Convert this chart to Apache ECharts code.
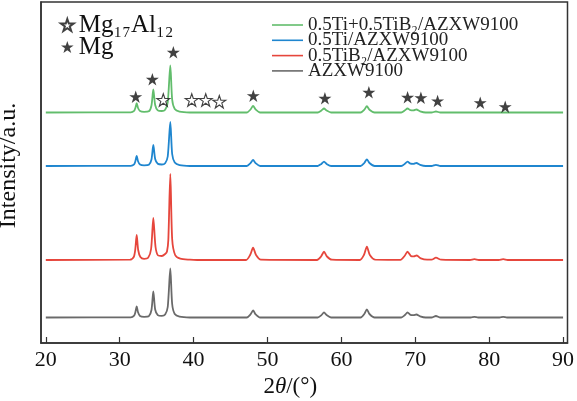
<!DOCTYPE html>
<html><head><meta charset="utf-8">
<script src="https://cdn.jsdelivr.net/npm/echarts@6/dist/echarts.min.js"></script>
<style>html,body{margin:0;padding:0;background:#fff}#c{width:577px;height:401px}</style>
</head><body><div id="c"></div>
<script>
// Series names (legend order)
const seriesNames = ['0.5Ti+0.5TiB₂/AZXW9100','0.5Ti/AZXW9100','0.5TiB₂/AZXW9100','AZXW9100'];
const seriesColors = ['#62bd6c','#1f86cf','#e6463c','#6a6a6a'];
// Vertical stacking offsets of each pattern (a.u.)
const traceOffsets = [230.5, 177, 83, 25.5];
// [2θ, relative intensity]
const greenTrace = [[20,0],[31.5,0.2],[31.95,1.6],[32.12,4.5],[32.3,9.4],[32.48,4.5],[32.75,1.4],[33.3,0.6],[33.95,1.2],[34.3,7],[34.55,23],[34.8,7.5],[35.15,2.2],[35.7,1.5],[36.15,2.8],[36.5,10],[36.85,47],[37.1,13],[37.45,3.5],[38.1,0.8],[39.5,0],[47.2,0],[47.7,3],[48.05,6.6],[48.4,3],[49.0,0],[56.8,0],[57.3,2],[57.65,4],[58.0,2],[58.6,0],[62.6,0],[63.1,2.8],[63.45,6.3],[63.8,2.8],[64.5,0],[68.1,0],[68.6,2.2],[68.95,4],[69.35,2.3],[69.75,2.1],[70.15,3],[70.65,1.2],[71.4,0],[72.2,0],[72.8,1],[73.4,0],[90,0]];
const blueTrace = [[20,0],[31.5,0.2],[31.95,1.6],[32.12,4.8],[32.3,10],[32.48,4.8],[32.75,1.4],[33.3,0.6],[33.95,1.2],[34.3,6.5],[34.55,21],[34.8,7],[35.15,2.2],[35.7,1.5],[36.15,2.8],[36.5,9.5],[36.85,44],[37.1,12],[37.45,3.5],[38.1,0.8],[39.5,0],[47.2,0],[47.7,2.8],[48.05,6],[48.4,2.8],[49.0,0],[56.8,0],[57.3,2.1],[57.65,4.3],[58.0,2.1],[58.6,0],[62.6,0],[63.1,3],[63.45,6.7],[63.8,3],[64.5,0],[68.1,0],[68.6,2.2],[68.95,4.3],[69.35,2.3],[69.75,2.1],[70.15,3],[70.65,1.2],[71.4,0],[72.2,0],[72.8,1.2],[73.4,0],[90,0]];
const redTrace = [[20,0],[31.4,0.3],[31.9,3],[32.1,10],[32.3,25],[32.5,10],[32.8,3],[33.3,1.2],[33.85,2.2],[34.25,11],[34.55,42],[34.85,13],[35.2,4.5],[35.7,4],[36.15,6],[36.4,8.5],[36.58,20],[36.85,86],[37.1,21],[37.5,5],[38.2,1.3],[39.5,0.3],[40.5,0],[47.1,0],[47.65,5],[48.05,12.3],[48.45,5],[49.1,0.3],[56.7,0],[57.25,3.5],[57.65,8.3],[58.05,3.5],[58.7,0.3],[62.5,0],[63.05,5],[63.45,13.3],[63.85,5],[64.6,0.3],[68.0,0.2],[68.55,4],[68.95,8.3],[69.4,4],[69.8,3.6],[70.2,4.5],[70.75,1.6],[71.6,0.3],[72.2,0.3],[72.8,2.3],[73.5,0.3],[77.4,0],[78.0,0.9],[78.6,0],[81.3,0],[81.9,0.9],[82.5,0],[90,0]];
const grayTrace = [[20,0],[31.5,0.2],[31.95,1.8],[32.12,5.2],[32.3,11],[32.48,5.2],[32.75,1.5],[33.3,0.7],[33.95,1.4],[34.3,7.5],[34.55,26],[34.8,8],[35.15,2.4],[35.7,1.6],[36.15,3],[36.5,10.5],[36.85,49],[37.1,13.5],[37.45,3.5],[38.1,0.8],[39.5,0],[47.2,0],[47.7,3.1],[48.05,7],[48.4,3.1],[49.0,0],[56.8,0],[57.3,2.4],[57.65,5],[58.0,2.4],[58.6,0],[62.6,0],[63.1,3.5],[63.45,8],[63.8,3.5],[64.5,0],[68.1,0],[68.6,2.5],[68.95,5],[69.35,2.6],[69.75,2.3],[70.15,3],[70.65,1.2],[71.4,0],[72.2,0],[72.8,1.5],[73.4,0],[77.5,0],[78.0,0.6],[78.5,0],[81.4,0],[81.9,0.6],[82.4,0],[90,0]];
// Phase markers [2θ, height a.u.]
const mgStars = [[32.17,246.3],[34.42,263.7],[37.26,290.7],[48.08,247.3],[57.77,244.7],[63.72,250.7],[68.96,245.7],[70.76,245.3],[73.02,242],[78.79,240.3],[82.17,236.3]];
const mg17Al12Stars = [[35.90,243],[39.75,243],[41.64,243],[43.48,241.3]];
const phaseNames = ['Mg₁₇Al₁₂','Mg'];
const xTicks = [20,30,40,50,60,70,80,90];

const traces = [greenTrace, blueTrace, redTrace, grayTrace];
const serif = '"Liberation Serif","Times New Roman","DejaVu Serif",serif';
const starPath = 'path://M12,0 L14.9,8.6 L24,8.6 L16.6,13.9 L19.4,22.8 L12,17.4 L4.6,22.8 L7.4,13.9 L0,8.6 L9.1,8.6 Z';

const chart = echarts.init(document.getElementById('c'), null, {renderer:'canvas'});
const lineSeries = traces.map((t, i) => ({
  name: seriesNames[i], type: 'line', symbol: 'none', smooth: 0.25,
  lineStyle: {color: seriesColors[i], width: 1.8}, itemStyle: {color: seriesColors[i]},
  data: t.map(p => [p[0], p[1] + traceOffsets[i]]), z: 2
}));
chart.setOption({
  animation: false,
  grid: {left: 41, right: 9.5, top: 2, bottom: 58, outerBoundsMode: 'none', containLabel: false,
    show: true, borderColor: '#333', borderWidth: 1.5, backgroundColor: 'transparent'},
  xAxis: {
    type: 'value', min: 19.35, max: 90.6,
    name: '2{i|θ}/(°)', nameLocation: 'middle', nameGap: 30,
    nameTextStyle: {fontFamily: serif, fontSize: 23, color: '#111', padding: [0, 28, 0, 0],
      rich: {i: {fontFamily: serif, fontStyle: 'italic', fontSize: 23, color: '#111'}}},
    axisLine: {show: true, lineStyle: {color: '#333', width: 1.5}},
    axisTick: {show: true, inside: true, length: 6, customValues: xTicks, lineStyle: {color: '#333', width: 1.2}},
    axisLabel: {customValues: xTicks, fontFamily: serif, fontSize: 22, color: '#111', margin: 6},
    splitLine: {show: false}
  },
  yAxis: {
    type: 'value', min: 0, max: 341,
    name: 'Intensity/a.u.', nameLocation: 'middle', nameGap: 20,
    nameTextStyle: {fontFamily: serif, fontSize: 24, color: '#111', padding: [0, 0, 0, 14]},
    axisLine: {show: true, lineStyle: {color: '#333', width: 1.5}},
    axisTick: {show: false}, axisLabel: {show: false}, splitLine: {show: false}
  },
  legend: [{
    data: seriesNames, orient: 'vertical', left: 272, top: 15.5, padding: 0,
    itemGap: -3.7, itemWidth: 31, itemHeight: 1.6, icon: 'rect',
    textStyle: {fontFamily: serif, fontSize: 19, color: '#222', lineHeight: 15}
  }, {
    data: phaseNames, orient: 'vertical', left: 60, top: 12.5, padding: 0,
    itemGap: -3, itemWidth: 13, itemHeight: 12,
    textStyle: {fontFamily: serif, fontSize: 25, color: '#111', lineHeight: 23}
  }],
  series: [
    ...lineSeries,
    {name: phaseNames[0], type: 'scatter', symbol: starPath, symbolSize: [13, 12.5], z: 5,
     itemStyle: {color: '#fff', borderColor: '#111', borderWidth: 1.1}, data: mg17Al12Stars},
    {name: phaseNames[1], type: 'scatter', symbol: starPath, symbolSize: [13, 12.5], z: 5,
     itemStyle: {color: '#111'}, data: mgStars}
  ]
});
</script></body></html>
